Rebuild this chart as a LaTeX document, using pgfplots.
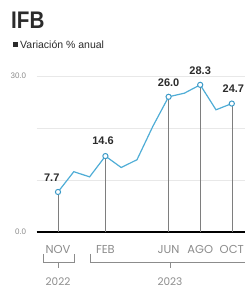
\documentclass[border=0pt]{standalone}
\usepackage{pgfplots}
\pgfplotsset{compat=1.18}
\usepackage{fontspec}
\setmainfont{Liberation Sans}
\newfontfamily\geo{Poppins}
\definecolor{linecol}{HTML}{4FADD6}
\definecolor{markcol}{HTML}{3E9BC8}
\definecolor{labgray}{HTML}{8C8C8C}
\definecolor{gridc}{HTML}{E8E8E8}
\definecolor{txt}{HTML}{2B2B2B}
\begin{document}
\begin{tikzpicture}[x=1pt,y=1pt]
\path[use as bounding box] (0,0) rectangle (245,289);
\clip (0,0) rectangle (245,289);
% title
\node[anchor=south west, inner sep=0pt, font=\bfseries\fontsize{24}{24}\selectfont, text=txt, xscale=0.86, transform shape] at (11,260.5) {IFB};
\fill[txt] (12.5,241.5) rectangle (17.5,246.5);
\node[anchor=west, inner sep=0pt, font=\fontsize{10.5}{11}\selectfont, text=txt] at (20,244.5) {Variación \% anual};
\begin{axis}[
  at={(36.7pt,57pt)}, anchor=south west,
  scale only axis, width=210.9pt, height=156pt,
  xmin=-1.348, xmax=12, ymin=0, ymax=30,
  clip=false,
  axis line style={draw=none},
  xtick={0,3,7,9,11}, xticklabels={NOV,FEB,JUN,AGO,OCT},
  xticklabel style={font=\geo\fontsize{11.5}{12}\selectfont, text=labgray, yshift=-10pt},
  major tick length=0pt, tick style={draw=none},
  ytick={0,10,20,30}, yticklabels={0.0,,,30.0},
  ymajorgrids, grid style={gridc, line width=0.6pt},
  yticklabel style={font=\fontsize{8}{8}\selectfont, text=labgray, xshift=-7pt},
  ytick pos=left, xtick pos=bottom,
]
\addplot[black, line width=1.3pt, no marks] coordinates {(-1.348,0) (12.5,0)};
\addplot[ycomb, draw=labgray!90!black, line width=0.6pt, no marks] coordinates {
(0,7.7) (3,14.6) (7,26.0) (9,28.3) (11,24.7)};
\addplot[linecol, line width=1.2pt, mark=*, mark size=2.6pt, mark indices={1,4,8,10,12},
  mark options={draw=markcol, fill=white, line width=1pt}] coordinates {
(0,7.7) (1,11.6) (2,10.6) (3,14.6) (4,12.4) (5,13.9) (6,20.3) (7,26.0) (8,26.7) (9,28.3) (10,23.5) (11,24.7)};
\node[font=\bfseries\fontsize{11}{11}\selectfont, text=txt, anchor=south east, inner sep=0pt] at (axis cs:0.1,9.6) {7.7};
\node[font=\bfseries\fontsize{11}{11}\selectfont, text=txt, anchor=south, inner sep=0pt] at (axis cs:2.85,16.7) {14.6};
\node[font=\bfseries\fontsize{11}{11}\selectfont, text=txt, anchor=south, inner sep=0pt] at (axis cs:7,28.0) {26.0};
\node[font=\bfseries\fontsize{11}{11}\selectfont, text=txt, anchor=south, inner sep=0pt] at (axis cs:9,30.3) {28.3};
\node[font=\bfseries\fontsize{11}{11}\selectfont, text=txt, anchor=south, inner sep=0pt] at (axis cs:11.1,26.7) {24.7};
\end{axis}
% year brackets
\draw[labgray, line width=0.6pt] (43,35) -- (43,27) -- (74,27) -- (74,35);
\draw[labgray, line width=0.6pt] (58,27) -- (58,21);
\draw[labgray, line width=0.6pt] (90,35) -- (90,27) -- (250,27);
\draw[labgray, line width=0.6pt] (170,27) -- (170,21);
\node[font=\geo\fontsize{10.5}{11}\selectfont, text=labgray, inner sep=0pt] at (58,7) {2022};
\node[font=\geo\fontsize{10.5}{11}\selectfont, text=labgray, inner sep=0pt] at (170,7) {2023};
\end{tikzpicture}
\end{document}
